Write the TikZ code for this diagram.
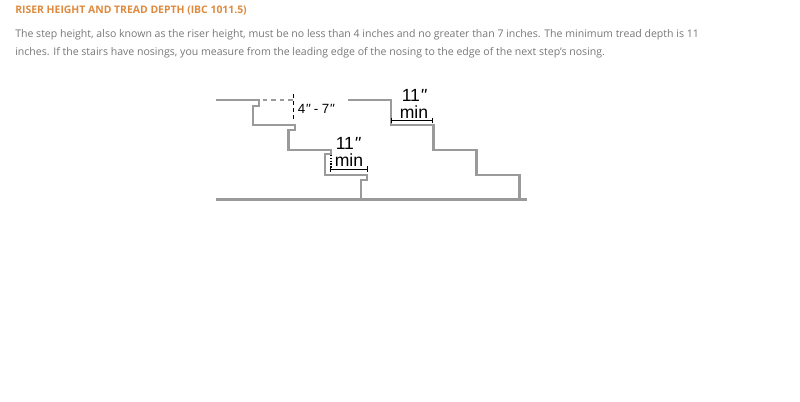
\documentclass[tikz,border=0pt]{standalone}
\usepackage{fontspec}
\setmainfont{Open Sans}
\newfontfamily\dimfont{Liberation Sans}
\definecolor{headorange}{HTML}{DE8A3E}
\definecolor{bodygray}{HTML}{777777}
\definecolor{stairgray}{HTML}{9A9A9A}
\tikzset{
  headtext/.style={anchor=west,inner sep=0pt,text=headorange,font=\fontsize{7.4pt}{10pt}\selectfont\bfseries},
  bodytext/.style={anchor=west,inner sep=0pt,text=bodygray,font=\fontsize{7.5pt}{10pt}\selectfont},
  stair/.style={draw=stairgray,line width=1.7pt,line join=miter},
  dimline/.style={draw=black,line width=0.7pt,{Bar[width=4pt]}-{Bar[width=4pt]}},
  dimtext/.style={inner sep=0pt,font=\fontsize{12.5pt}{14pt}\selectfont\dimfont},
  smalldim/.style={inner sep=0pt,font=\fontsize{9.5pt}{10pt}\selectfont\dimfont}
}
\usetikzlibrary{arrows.meta}
\begin{document}
\begin{tikzpicture}[x=0.025cm,y=-0.025cm]
\useasboundingbox (0,0) rectangle (800,401);
% page text
\node[headtext] (title) at (15,11) {RISER HEIGHT AND TREAD DEPTH (IBC 1011.5)};
\node[bodytext] (lineone) at (15,35) {The step height, also known as the riser height, must be no less than 4 inches and no greater than 7 inches. The minimum tread depth is 11};
\node[bodytext] (linetwo) at (15,52.5) {inches. If the stairs have nosings, you measure from the leading edge of the nosing to the edge of the next step's nosing.};
% ground and stairs
\draw[stair] (216,199.5) -- (527,199.5);
\draw[stair] (216,100) -- (259,100) -- (259,106) -- (253,106) -- (253,125) -- (295,125) -- (295,130) -- (288.5,130) -- (288.5,150) -- (331,150) -- (331,154) -- (325,154) -- (325,175) -- (367,175) -- (367,180) -- (361,180) -- (361,199.5);
\draw[stair] (348,100) -- (391,100) -- (391,125) -- (433.5,125) -- (433.5,150) -- (476.5,150) -- (476.5,175) -- (519.5,175) -- (519.5,199.5);
% riser dimension
\draw[stairgray,line width=0.8pt,dashed] (263,100) -- (295,100);
\draw[black,line width=0.9pt,densely dashed] (293.5,94) -- (293.5,122);
\node[smalldim] (riser) at (316,108.5) {4{\itshape\textquotedbl}\ - 7{\itshape\textquotedbl}};
% lower tread
\draw[black,line width=1pt,densely dotted] (331,155) -- (331,168);
\draw[dimline] (330,169) -- (367.5,169);
\node[dimtext] (lowerval) at (348,143) {11{\itshape\textquotedbl}};
\node[dimtext] (lowermin) at (349,160) {min};
% upper tread
\draw[dimline] (391,120.5) -- (433,120.5);
\node[dimtext] (upperval) at (414,95.5) {11{\itshape\textquotedbl}};
\node[dimtext] (uppermin) at (414,112.5) {min};
\end{tikzpicture}
\end{document}
